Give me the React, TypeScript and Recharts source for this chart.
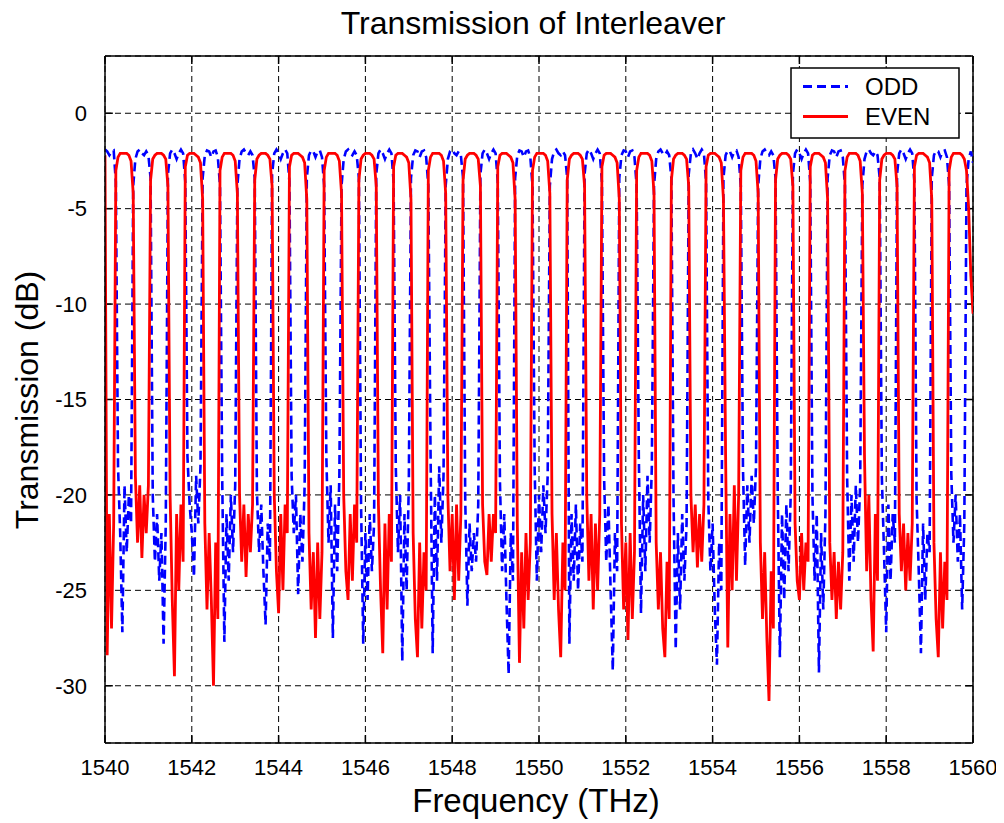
import React from 'react';
import { LineChart, Line, XAxis, YAxis, CartesianGrid, ReferenceLine } from 'recharts';

// Frequency grid: 1540 .. 1560 in steps of 0.05 (401 samples)
const FREQ_START = 1540;
const FREQ_STEP = 0.05;

const xTicks = [1540, 1542, 1544, 1546, 1548, 1550, 1552, 1554, 1556, 1558, 1560];
const yTicks = [-30, -25, -20, -15, -10, -5, 0];
const X_DOMAIN: [number, number] = [1540, 1560];
const Y_DOMAIN: [number, number] = [-33, 3];

// ODD channel transmission (dB), one row per 0.8 period
const oddDb: number[] = [
  -1.9, -2.0, -2.2, -2.0, -1.95, -3.6, -18.5, -22.0, -27.2, -19.5, -23.0, -20.0, -21.5, -3.8, -2.4, -2.0,
  -1.9, -2.1, -2.2, -2.0, -2.2, -3.4, -20.0, -23.5, -21.0, -24.5, -22.0, -27.8, -21.5, -3.2, -2.1, -1.9,
  -2.1, -2.4, -2.1, -1.9, -2.1, -3.6, -18.0, -20.5, -22.0, -24.3, -19.0, -21.5, -18.5, -3.4, -2.2, -1.95,
  -2.0, -2.3, -2.0, -1.95, -2.3, -3.8, -19.0, -27.7, -21.0, -24.5, -20.0, -23.0, -19.5, -3.8, -2.4, -2.0,
  -1.9, -2.1, -2.2, -2.0, -2.2, -3.4, -19.8, -23.0, -20.5, -24.0, -26.8, -21.5, -23.5, -3.2, -2.1, -1.9,
  -2.1, -2.4, -2.1, -1.9, -2.1, -3.6, -19.0, -22.0, -20.0, -25.2, -21.0, -23.5, -19.5, -3.4, -2.2, -1.95,
  -2.0, -2.3, -2.0, -1.95, -2.3, -3.8, -18.0, -22.5, -19.5, -27.5, -20.5, -24.0, -19.0, -3.8, -2.4, -2.0,
  -1.9, -2.1, -2.2, -2.0, -2.2, -3.4, -20.5, -27.8, -22.0, -25.5, -21.0, -24.0, -21.5, -3.2, -2.1, -1.9,
  -2.1, -2.4, -2.1, -1.9, -2.1, -3.6, -18.5, -23.0, -20.0, -28.7, -21.0, -25.0, -19.5, -3.4, -2.2, -1.95,
  -2.0, -2.3, -2.0, -1.95, -2.3, -3.8, -17.5, -28.3, -20.0, -24.5, -18.5, -22.5, -19.0, -3.8, -2.4, -2.0,
  -1.9, -2.1, -2.2, -2.0, -2.2, -3.4, -20.2, -25.8, -21.5, -24.0, -22.0, -23.5, -20.5, -3.2, -2.1, -1.9,
  -2.1, -2.4, -2.1, -1.9, -2.1, -3.6, -19.3, -24.0, -21.0, -25.5, -29.4, -22.0, -24.5, -3.4, -2.2, -1.95,
  -2.0, -2.3, -2.0, -1.95, -2.3, -3.8, -18.6, -24.5, -20.0, -23.0, -19.5, -22.0, -19.0, -3.8, -2.4, -2.0,
  -1.9, -2.1, -2.2, -2.0, -2.2, -3.4, -27.8, -21.0, -24.5, -20.5, -25.0, -21.5, -23.5, -3.2, -2.1, -1.9,
  -2.1, -2.4, -2.1, -1.9, -2.1, -3.6, -19.1, -23.5, -20.5, -25.0, -29.2, -22.0, -24.0, -3.4, -2.2, -1.95,
  -2.0, -2.3, -2.0, -1.95, -2.3, -3.8, -18.0, -26.2, -20.0, -24.0, -19.0, -22.5, -18.5, -3.8, -2.4, -2.0,
  -1.9, -2.1, -2.2, -2.0, -2.2, -3.4, -20.2, -28.1, -22.0, -26.0, -21.0, -24.5, -21.5, -3.2, -2.1, -1.9,
  -2.1, -2.4, -2.1, -1.9, -2.1, -3.6, -20.2, -24.0, -21.5, -26.0, -28.9, -22.5, -25.0, -3.4, -2.2, -1.95,
  -2.0, -2.3, -2.0, -1.95, -2.3, -3.8, -18.6, -23.7, -19.5, -22.5, -19.0, -21.5, -18.5, -3.8, -2.4, -2.0,
  -1.9, -2.1, -2.2, -2.0, -2.2, -3.4, -19.6, -28.5, -21.0, -25.5, -20.5, -24.0, -20.0, -3.2, -2.1, -1.9,
  -2.1, -2.4, -2.1, -1.9, -2.1, -3.6, -20.0, -24.5, -21.0, -29.3, -22.0, -26.0, -21.0, -3.4, -2.2, -1.95,
  -2.0, -2.3, -2.0, -1.95, -2.3, -3.8, -19.1, -24.5, -20.0, -23.5, -19.5, -22.5, -19.5, -3.8, -2.4, -2.0,
  -1.9, -2.1, -2.2, -2.0, -2.2, -3.4, -19.1, -23.0, -27.2, -20.5, -24.5, -21.0, -22.5, -3.2, -2.1, -1.9,
  -2.1, -2.4, -2.1, -1.9, -2.1, -3.6, -20.2, -24.0, -28.3, -21.5, -25.5, -22.0, -23.0, -3.4, -2.2, -1.95,
  -2.0, -2.3, -2.0, -1.95, -2.3, -3.8, -18.9, -22.5, -20.0, -23.5, -21.0, -26.0, -21.5, -3.8, -2.4, -2.0,
  -2.6,
];

// EVEN channel transmission (dB), one row per 0.8 period
const evenDb: number[] = [
  -2.2, -28.4, -21.0, -27.0, -21.5, -3.0, -2.3, -2.1, -2.1, -2.1, -2.1, -2.2, -2.5, -4.2, -19.0, -22.5,
  -19.5, -23.3, -20.0, -22.0, -19.5, -3.5, -2.4, -2.2, -2.1, -2.1, -2.1, -2.2, -2.4, -3.8, -20.0, -25.5,
  -29.5, -21.0, -25.0, -20.5, -23.5, -2.8, -2.2, -2.1, -2.1, -2.1, -2.2, -2.3, -2.6, -4.5, -21.5, -26.0,
  -22.0, -25.5, -30.0, -22.5, -26.5, -3.0, -2.3, -2.1, -2.1, -2.1, -2.1, -2.2, -2.5, -4.2, -20.0, -23.5,
  -20.5, -24.3, -21.0, -23.0, -20.5, -3.5, -2.4, -2.2, -2.1, -2.1, -2.1, -2.2, -2.4, -3.8, -20.0, -24.0,
  -26.2, -21.0, -25.0, -20.5, -22.0, -2.8, -2.2, -2.1, -2.1, -2.1, -2.2, -2.3, -2.6, -4.5, -22.0, -26.0,
  -23.0, -27.5, -22.5, -26.5, -23.0, -3.0, -2.3, -2.1, -2.1, -2.1, -2.1, -2.2, -2.5, -4.2, -20.0, -24.0,
  -25.5, -21.0, -24.5, -20.5, -22.5, -3.5, -2.4, -2.2, -2.1, -2.1, -2.1, -2.2, -2.4, -3.8, -20.5, -25.0,
  -28.3, -21.5, -26.0, -21.0, -23.5, -2.8, -2.2, -2.1, -2.1, -2.1, -2.2, -2.3, -2.6, -4.5, -22.0, -26.5,
  -28.5, -22.5, -27.0, -23.0, -25.0, -3.0, -2.3, -2.1, -2.1, -2.1, -2.1, -2.2, -2.5, -4.2, -20.0, -24.0,
  -21.0, -25.5, -20.5, -24.5, -21.0, -3.5, -2.4, -2.2, -2.1, -2.1, -2.1, -2.2, -2.4, -3.8, -20.5, -23.5,
  -24.2, -21.0, -23.5, -21.0, -22.0, -2.8, -2.2, -2.1, -2.1, -2.1, -2.2, -2.3, -2.6, -4.5, -21.5, -28.8,
  -23.0, -27.0, -22.0, -25.5, -22.5, -3.0, -2.3, -2.1, -2.1, -2.1, -2.1, -2.2, -2.5, -4.2, -21.0, -25.5,
  -22.0, -26.0, -28.5, -22.5, -25.0, -3.5, -2.4, -2.2, -2.1, -2.1, -2.1, -2.2, -2.4, -3.8, -20.0, -24.5,
  -21.0, -26.0, -21.5, -25.0, -21.0, -2.8, -2.2, -2.1, -2.1, -2.1, -2.2, -2.3, -2.6, -4.5, -21.5, -26.0,
  -22.5, -27.6, -22.0, -26.5, -23.0, -3.0, -2.3, -2.1, -2.1, -2.1, -2.1, -2.2, -2.5, -4.2, -22.5, -26.0,
  -23.0, -27.0, -28.5, -23.5, -26.5, -3.5, -2.4, -2.2, -2.1, -2.1, -2.1, -2.2, -2.4, -3.8, -20.0, -23.0,
  -20.5, -23.8, -21.0, -23.5, -20.5, -2.8, -2.2, -2.1, -2.1, -2.1, -2.2, -2.3, -2.6, -4.5, -18.0, -28.0,
  -21.0, -25.0, -19.5, -24.5, -20.0, -3.0, -2.3, -2.1, -2.1, -2.1, -2.1, -2.2, -2.5, -4.2, -22.5, -26.5,
  -23.0, -27.5, -30.8, -24.0, -27.0, -3.5, -2.4, -2.2, -2.1, -2.1, -2.1, -2.2, -2.4, -3.8, -21.5, -24.5,
  -25.5, -22.0, -25.0, -22.5, -23.5, -2.8, -2.2, -2.1, -2.1, -2.1, -2.2, -2.3, -2.6, -4.5, -22.5, -25.5,
  -23.0, -26.5, -23.5, -26.0, -23.0, -3.0, -2.3, -2.1, -2.1, -2.1, -2.1, -2.2, -2.5, -4.2, -18.0, -24.0,
  -20.0, -25.5, -28.2, -21.0, -24.5, -3.5, -2.4, -2.2, -2.1, -2.1, -2.1, -2.2, -2.4, -3.8, -21.0, -24.0,
  -21.5, -25.0, -22.0, -24.5, -21.5, -2.8, -2.2, -2.1, -2.1, -2.1, -2.2, -2.3, -2.6, -4.5, -22.5, -26.5,
  -28.5, -23.0, -27.0, -23.5, -25.5, -3.0, -2.3, -2.1, -2.1, -2.1, -2.1, -2.2, -2.4, -3.0, -5.0, -8.5,
  -10.5,
];

const data = oddDb.map((v, i) => ({
  f: Math.round((FREQ_START + i * FREQ_STEP) * 100) / 100,
  odd: v,
  even: evenDb[i],
}));

const FONT = '"Liberation Sans", Arial, Helvetica, sans-serif';
const W = 996;
const H = 815;

const X_TICK_LEN = 0.18;
const Y_TICK_LEN = 0.42;

export default function App() {
  return (
    <div style={{ position: 'relative', width: W, height: H, background: '#fff' }}>
      <LineChart
        width={W}
        height={H}
        data={data}
        margin={{ top: 48, right: 31, left: 20, bottom: 20 }}
      >
        <CartesianGrid stroke="#000" strokeWidth={1} strokeDasharray="6 4" />
        <XAxis
          dataKey="f"
          type="number"
          domain={X_DOMAIN}
          ticks={xTicks}
          allowDataOverflow
          height={60}
          tickLine={false}
          tickMargin={10}
          axisLine={{ stroke: '#000', strokeWidth: 1.5 }}
          tick={{ fill: '#000', fontSize: 22, fontFamily: FONT }}
        />
        <YAxis
          type="number"
          domain={Y_DOMAIN}
          ticks={yTicks}
          allowDataOverflow
          width={77}
          tickLine={false}
          tickMargin={12}
          axisLine={{ stroke: '#000', strokeWidth: 1.5 }}
          tick={{ fill: '#000', fontSize: 22, fontFamily: FONT }}
        />
        <ReferenceLine x={X_DOMAIN[1]} stroke="#000" strokeWidth={1.5} />
        <ReferenceLine y={Y_DOMAIN[1]} stroke="#000" strokeWidth={1.5} />
        {xTicks.map((t) => (
          <ReferenceLine
            key={'xb' + t}
            segment={[{ x: t, y: Y_DOMAIN[0] }, { x: t, y: Y_DOMAIN[0] + Y_TICK_LEN }]}
            stroke="#000"
            strokeWidth={1.5}
          />
        ))}
        {xTicks.map((t) => (
          <ReferenceLine
            key={'xt' + t}
            segment={[{ x: t, y: Y_DOMAIN[1] }, { x: t, y: Y_DOMAIN[1] - Y_TICK_LEN }]}
            stroke="#000"
            strokeWidth={1.5}
          />
        ))}
        {yTicks.map((t) => (
          <ReferenceLine
            key={'yl' + t}
            segment={[{ x: X_DOMAIN[0], y: t }, { x: X_DOMAIN[0] + X_TICK_LEN, y: t }]}
            stroke="#000"
            strokeWidth={1.5}
          />
        ))}
        {yTicks.map((t) => (
          <ReferenceLine
            key={'yr' + t}
            segment={[{ x: X_DOMAIN[1], y: t }, { x: X_DOMAIN[1] - X_TICK_LEN, y: t }]}
            stroke="#000"
            strokeWidth={1.5}
          />
        ))}
        <Line
          type="linear"
          dataKey="odd"
          stroke="#0000ff"
          strokeWidth={2.6}
          strokeDasharray="9 5"
          dot={false}
          isAnimationActive={false}
        />
        <Line
          type="linear"
          dataKey="even"
          stroke="#ff0000"
          strokeWidth={2.8}
          dot={false}
          isAnimationActive={false}
        />
      </LineChart>
      <svg
        width={1004}
        height={823}
        style={{ position: 'absolute', left: -8, top: -8, pointerEvents: 'none' }}
      >
        <text x={533} y={34} textAnchor="middle" fontSize={32} fontFamily={FONT} fill="#000">
          Transmission of Interleaver
        </text>
        <text x={536} y={812} textAnchor="middle" fontSize={33} fontFamily={FONT} fill="#000">
          Frequency (THz)
        </text>
        <text
          x={0}
          y={0}
          transform="translate(38,400) rotate(-90)"
          textAnchor="middle"
          fontSize={32}
          fontFamily={FONT}
          fill="#000"
        >
          Transmission (dB)
        </text>
        <rect x={791} y={68} width={168} height={70} fill="#fff" stroke="#000" strokeWidth={1.5} />
        <line x1={803} y1={86.5} x2={848} y2={86.5} stroke="#0000ff" strokeWidth={3} strokeDasharray="9 5" />
        <text x={865} y={95} fontSize={24} fontFamily={FONT} fill="#000">ODD</text>
        <line x1={803} y1={116.5} x2={848} y2={116.5} stroke="#ff0000" strokeWidth={3} />
        <text x={865} y={125} fontSize={24} fontFamily={FONT} fill="#000">EVEN</text>
      </svg>
    </div>
  );
}
